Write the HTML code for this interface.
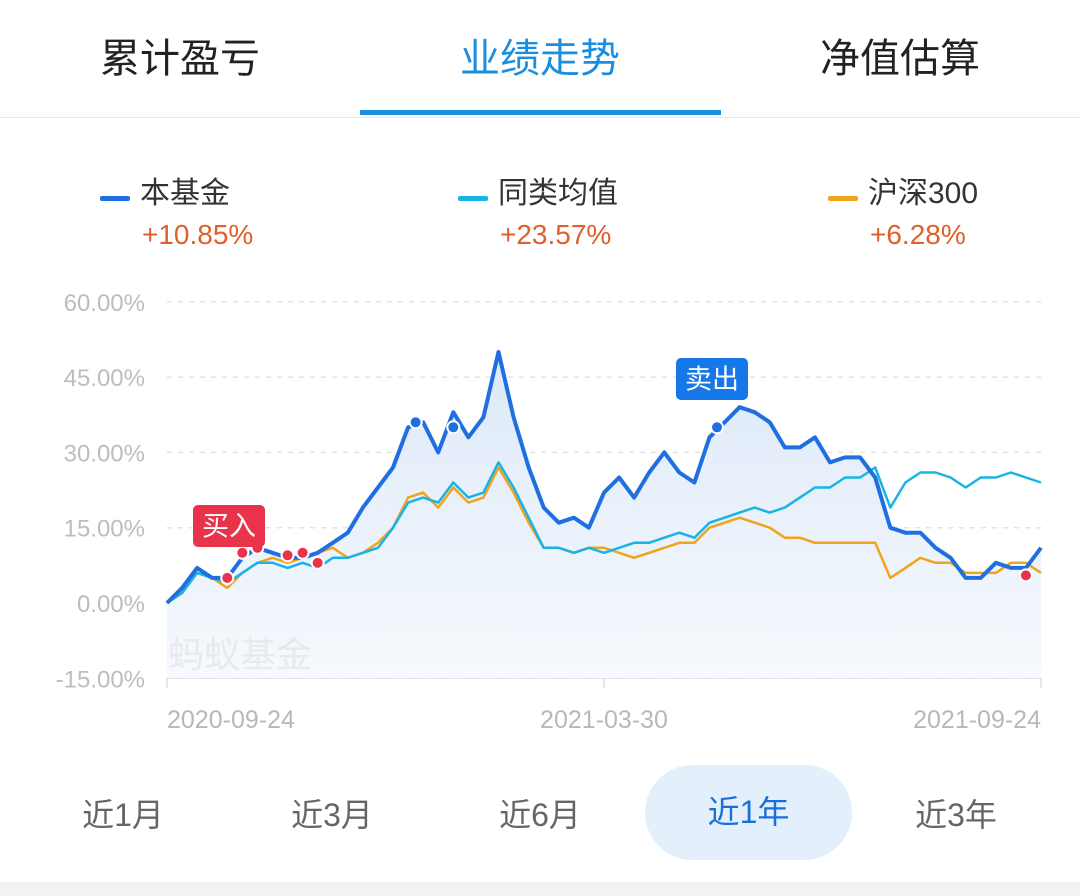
<!DOCTYPE html>
<html><head><meta charset="utf-8"><style>
body{margin:0;width:1080px;height:896px;background:#fff;overflow:hidden;font-family:"Liberation Sans","Noto Sans CJK SC",sans-serif;position:relative}
.abs{position:absolute}
.tab{top:26px;font-size:40px;color:#222;width:360px;text-align:center}
.leg{font-size:30px;color:#333}
.val{font-size:28px;color:#e0602a}
.btn{top:790px;font-size:32px;color:#666;width:200px;text-align:center}
</style></head><body>
<div class="abs tab" style="left:0">累计盈亏</div>
<div class="abs tab" style="left:360px;color:#1a8fe0">业绩走势</div>
<div class="abs tab" style="left:720px">净值估算</div>
<div class="abs" style="left:360px;top:110px;width:361px;height:5px;background:#1a8fe0"></div>
<div class="abs" style="left:0;top:117px;width:1080px;height:1px;background:#e8e8e8"></div>

<div class="abs" style="left:100px;top:168px">
<span style="display:inline-block;width:30px;height:5px;background:#1f6fe0;vertical-align:middle;margin-right:10px;border-radius:2px"></span><span class="leg">本基金</span>
<div class="val" style="margin-left:42px;margin-top:7px">+10.85%</div></div>
<div class="abs" style="left:458px;top:168px">
<span style="display:inline-block;width:30px;height:5px;background:#1ab3e6;vertical-align:middle;margin-right:10px;border-radius:2px"></span><span class="leg">同类均值</span>
<div class="val" style="margin-left:42px;margin-top:7px">+23.57%</div></div>
<div class="abs" style="left:828px;top:168px">
<span style="display:inline-block;width:30px;height:5px;background:#f2a31c;vertical-align:middle;margin-right:10px;border-radius:2px"></span><span class="leg">沪深300</span>
<div class="val" style="margin-left:42px;margin-top:7px">+6.28%</div></div>

<svg class="abs" style="left:0;top:0" width="1080" height="896" id="chart">
<defs><linearGradient id="g" x1="0" y1="0" x2="0" y2="1"><stop offset="0" stop-color="#dde9f8"/><stop offset="1" stop-color="#f6f9fd"/></linearGradient></defs>
</svg>

<div class="abs btn" style="left:23px">近1月</div>
<div class="abs btn" style="left:232px">近3月</div>
<div class="abs btn" style="left:440px">近6月</div>
<div class="abs" style="left:645px;top:765px;width:207px;height:95px;border-radius:48px;background:#e4effc;color:#1a6fd8;font-size:32px;line-height:95px;text-align:center">近1年</div>
<div class="abs btn" style="left:856px">近3年</div>
<div class="abs" style="left:0;top:882px;width:1080px;height:14px;background:#f2f2f2"></div>

<script>
const yTicks=[60,45,30,15,0,-15];
const yTickLabels=["60.00%","45.00%","30.00%","15.00%","0.00%","-15.00%"];
const xTickLabels=["2020-09-24","2021-03-30","2021-09-24"];
const xTickIdx=[0,29,58];
const fund=[0,3,7,5,5,9,11,10,9,9,10,12,14,19,23,27,35,36,30,38,33,37,50,37,27,19,16,17,15,22,25,21,26,30,26,24,33,36,39,38,36,31,31,33,28,29,29,25,15,14,14,11,9,5,5,8,7,7,11];
const categoryAvg=[0,2,6,5,4,6,8,8,7,8,7,9,9,10,11,15,20,21,20,24,21,22,28,23,17,11,11,10,11,10,11,12,12,13,14,13,16,17,18,19,18,19,21,23,23,25,25,27,19,24,26,26,25,23,25,25,26,25,24];
const csi300=[0,2,6,5,3,6,8,9,8,9,10,11,9,10,12,15,21,22,19,23,20,21,27,22,16,11,11,10,11,11,10,9,10,11,12,12,15,16,17,16,15,13,13,12,12,12,12,12,5,7,9,8,8,6,6,6,8,8,6];
const buyIdx=[4,5,6,8,9,10,57];
const buyVals=[5,10,11,9.5,10,8,5.5];
const sellIdx=[16.5,19,36.5];
const sellVals=[36,35,35];
const X0=167,X1=1041,Y0=603,PPU=5.02;
const N=fund.length;
const xs=i=>X0+(X1-X0)*i/(N-1);
const ys=v=>Y0-v*PPU;
const svg=document.getElementById('chart');
const NS='http://www.w3.org/2000/svg';
function mk(t,a){const e=document.createElementNS(NS,t);for(const k in a)e.setAttribute(k,a[k]);svg.appendChild(e);return e;}
yTicks.forEach((t,k)=>{
 const l=mk('line',{x1:167,x2:1041,y1:ys(t),y2:ys(t),stroke:'#e3e3e3','stroke-width':1.5,'stroke-dasharray':'5,6'});
 
 
 const tx=mk('text',{x:145,y:ys(t)+9,'text-anchor':'end','font-size':24,fill:'#bdbdbd','font-family':'Liberation Sans, sans-serif'});
 tx.textContent=yTickLabels[k];
 
 
});
const ax=mk('line',{x1:167,x2:1041,y1:678,y2:678,stroke:'#ddd','stroke-width':1.5});


xTickIdx.forEach((i,k)=>{
 const tk=mk('line',{x1:xs(i),x2:xs(i),y1:678,y2:688,stroke:'#ddd','stroke-width':1.5});
 
 
 const anchor=k==0?'start':k==xTickLabels.length-1?'end':'middle';
 const tx=mk('text',{x:xs(i),y:728,'text-anchor':anchor,'font-size':25,fill:'#b8b8b8','font-family':'Liberation Sans, sans-serif'});
 tx.textContent=xTickLabels[k];
 
 
});
const pts=a=>a.map((v,i)=>xs(i).toFixed(1)+','+ys(v).toFixed(1)).join(' ');
const area=mk('polygon',{points:pts(fund)+' '+X1+',678 '+X0+',678',fill:'url(#g)'});


const wm=mk('text',{x:168,y:667,'font-size':36,fill:'#e6e9ee','font-family':'Noto Sans CJK SC, sans-serif'});
wm.textContent='蚂蚁基金';


const l3=mk('polyline',{points:pts(csi300),fill:'none',stroke:'#f2a31c','stroke-width':2.5,'stroke-linejoin':'round'});


const l2=mk('polyline',{points:pts(categoryAvg),fill:'none',stroke:'#1ab3e6','stroke-width':2.5,'stroke-linejoin':'round'});


const l1=mk('polyline',{points:pts(fund),fill:'none',stroke:'#1f6fe0','stroke-width':4,'stroke-linejoin':'round'});


buyIdx.forEach((i,k)=>{
 const c=mk('circle',{cx:xs(i),cy:ys(buyVals[k]),r:6,fill:'#e8334a',stroke:'#fff','stroke-width':2});
 
 
});
sellIdx.forEach((i,k)=>{
 const c=mk('circle',{cx:xs(i),cy:ys(sellVals[k]),r:6,fill:'#1f6fe0',stroke:'#fff','stroke-width':2});
 
 
});
function tag(x,y,w,h,col,txt,name,fs){
 const r=mk('rect',{x:x,y:y,width:w,height:h,rx:5,fill:col});
 
 
 const t=mk('text',{x:x+w/2,y:y+h/2+fs*0.36,'text-anchor':'middle','font-size':fs,fill:'#fff','font-family':'Noto Sans CJK SC, sans-serif'});
 t.textContent=txt;
 
 
}
tag(193,505,72,42,'#e8334a','买入','buy-tag',27);
tag(676,358,72,42,'#1677e8','卖出','sell-tag',27);
</script>
</body></html>
